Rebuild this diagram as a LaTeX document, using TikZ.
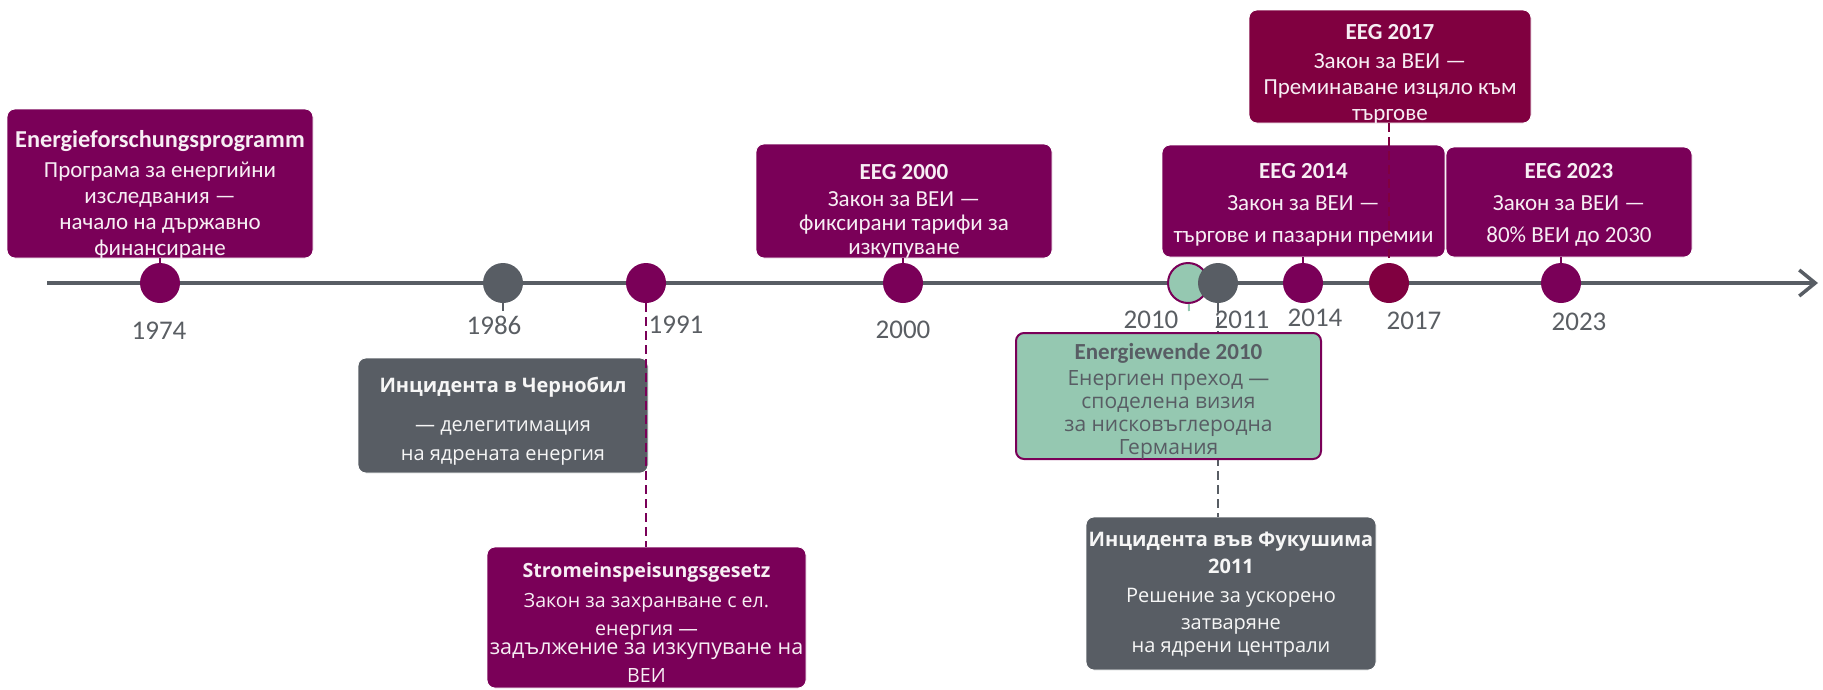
\documentclass[tikz,border=0pt]{standalone}
\usepackage{fontspec}
\setmainfont{Carlito}
\newfontfamily\osans{Open Sans}
\usetikzlibrary{arrows.meta}

\definecolor{evpurple}{HTML}{7A0058}
\definecolor{evcrimson}{HTML}{800040}
\definecolor{evgray}{HTML}{585D64}
\definecolor{evgreen}{HTML}{95C8B1}
\definecolor{evtext}{HTML}{F7EEF4}
\definecolor{yeargray}{HTML}{5A5E63}

\tikzset{
  evdot/.style={circle, minimum size=40pt, inner sep=0pt, fill=#1},
  evbox/.style={rounded corners=8pt, fill=#1, draw=white, line width=0.8pt, inner sep=0pt},
  evtxt/.style={anchor=north, inner sep=0pt, align=center, text=evtext},
  year/.style={inner sep=0pt, text=yeargray, font=\fontsize{27}{30}\selectfont},
  stub/.style={line width=2pt, draw=#1},
  dashline/.style={line width=2.5pt, draw=#1, dash pattern=on 9pt off 5pt},
}

\begin{document}
\begin{tikzpicture}[x=1pt, y=-1pt]
  \useasboundingbox (0,0) rectangle (1823,689);

  % timeline
  \coordinate (tl0) at (47,283);
  \coordinate (tl1) at (1818,283);
  \draw[line width=3.5pt, evgray, -{Straight Barb[length=16pt, width=26pt]}] (tl0) -- (tl1);

  % dots
  \node[evdot=evpurple] (d1974) at (160,283) {};
  \node[evdot=evgray] (d1986) at (503,283) {};
  \node[evdot=evpurple] (d1991) at (646,283) {};
  \node[evdot=evpurple] (d2000) at (903,283) {};
  \node[evdot=evgreen, draw=evpurple, line width=2pt] (d2010) at (1188,283) {};
  \node[evdot=evgray] (d2011) at (1218,283) {};
  \node[evdot=evpurple] (d2014) at (1303,283) {};
  \node[evdot=evcrimson] (d2017) at (1389,283) {};
  \node[evdot=evpurple] (d2023) at (1561,283) {};

  \coordinate (s1986) at (503,311);
  \coordinate (s2010) at (1189,311);
  \draw[stub=evgray] (d1986) -- (s1986);
  \draw[stub=evgreen] (d2010) -- (s2010);

  % boxes
  \node[evbox=evpurple, minimum width=306pt, minimum height=149pt] (b1974) at (160,183.5) {};
  \node[evbox=evgray, minimum width=290pt, minimum height=115pt] (b1986) at (503,415.5) {};
  \node[evbox=evpurple, minimum width=319pt, minimum height=141pt] (b1991) at (646.5,617.5) {};
  \node[evbox=evpurple, minimum width=296pt, minimum height=114pt] (b2000) at (904,201) {};
  \node[evbox=evgray, minimum width=290pt, minimum height=153pt] (b2011) at (1231,593.5) {};
  \draw[dashline=evgray] (d2011) -- (d2011 |- b2011.north);
  \node[evbox=evgreen, draw=evpurple, line width=2pt, minimum width=305pt, minimum height=126pt] (b2010) at (1168.5,396) {};
  \node[evbox=evpurple, minimum width=283pt, minimum height=112pt] (b2014) at (1303.5,201) {};
  \node[evbox=evcrimson, minimum width=282pt, minimum height=113pt] (b2017) at (1390,66.5) {};
  \node[evbox=evpurple, minimum width=246pt, minimum height=110pt] (b2023) at (1569,202) {};

  % connectors
  \draw[stub=evpurple] (b1974) -- (d1974);
  \draw[stub=evpurple] (b2000.south -| d2000) -- (d2000);
  \draw[stub=evpurple] (b2014.south -| d2014) -- (d2014);
  \draw[stub=evpurple] (b2023.south -| d2023) -- (d2023);
  \draw[dashline=evpurple] (d1991) -- (d1991 |- b1991.north);
  \draw[dashline=evcrimson] (b2017.south -| d2017) -- (d2017);

  % texts
  \node[evtxt, font=\fontsize{23}{26}\selectfont] (t1974) at (160,130.5)
    {{\fontsize{24.3}{26}\selectfont\bfseries Energieforschungsprogramm}\\[4pt]Програма за енергийни\\изследвания —\\начало на държавно\\финансиране};
  \node[evtxt, font=\fontsize{23}{24}\selectfont] (t2000) at (904,164.5)
    {\textbf{EEG 2000}\\[3pt]Закон за ВЕИ —\\фиксирани тарифи за\\изкупуване};
  \node[evtxt, font=\fontsize{23}{32}\selectfont] (t2014) at (1303.5,163.5)
    {\textbf{EEG 2014}\\Закон за ВЕИ —\\търгове и пазарни премии};
  \node[evtxt, font=\fontsize{23}{26}\selectfont] (t2017) at (1390,24.5)
    {\textbf{EEG 2017}\\[3pt]Закон за ВЕИ —\\Преминаване изцяло към\\търгове};
  \node[evtxt, font=\fontsize{23}{32}\selectfont] (t2023) at (1569,163.5)
    {\textbf{EEG 2023}\\Закон за ВЕИ —\\80\% ВЕИ до 2030};
  \node[evtxt, text=white!93!gray, font=\osans\fontsize{20}{29}\selectfont] (t1986) at (503,377.4)
    {\textbf{Инцидента в Чернобил}\\[10pt]— делегитимация\\на ядрената енергия};
  \node[evtxt, font=\osans\fontsize{19.6}{28}\selectfont] (t1991) at (646.5,562.7)
    {\textbf{Stromeinspeisungsgesetz}\\[2pt]Закон за захранване с ел.\\енергия —\\[-9pt]{\fontsize{21.5}{28}\selectfont задължение за изкупуване на}\\ВЕИ};
  \node[evtxt, text=evgray, font=\osans\fontsize{21}{23}\selectfont] (t2010) at (1168.5,343)
    {{\normalfont\fontsize{23}{23}\selectfont\bfseries Energiewende 2010}\\[3pt]Енергиен преход —\\споделена визия\\за нисковъглеродна\\Германия};
  \node[evtxt, text=white!93!gray, font=\osans\fontsize{20}{27}\selectfont] (t2011) at (1231,532)
    {\textbf{Инцидента във Фукушима}\\\textbf{2011}\\[2pt]Решение за ускорено\\затваряне\\[-4pt]на ядрени централи};

  % years
  \node[year] (y1974) at (159,331) {1974};
  \node[year] (y1986) at (494,325) {1986};
  \node[year] (y1991) at (676,325) {1991};
  \node[year] (y2000) at (903,330) {2000};
  \node[year] (y2010) at (1151,320) {2010};
  \node[year] (y2011) at (1242,320) {2011};
  \node[year] (y2014) at (1315,318) {2014};
  \node[year] (y2017) at (1414,321) {2017};
  \node[year] (y2023) at (1579,322) {2023};
\end{tikzpicture}
\end{document}
